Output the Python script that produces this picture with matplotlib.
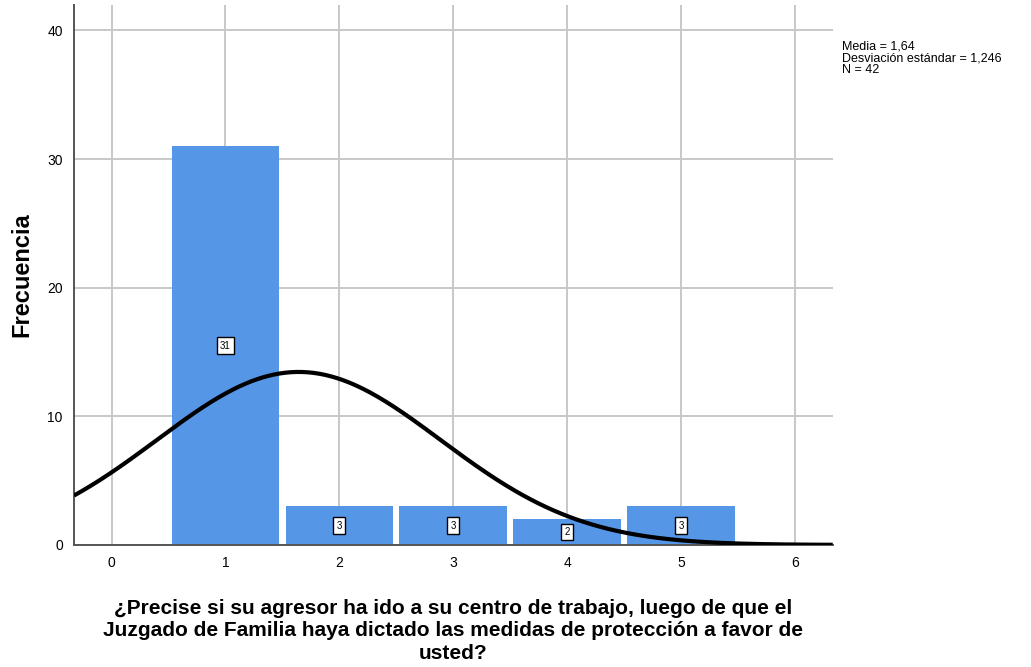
import numpy as np
import matplotlib.pyplot as plt

plt.rcParams['font.family'] = ['Liberation Sans', 'DejaVu Sans']

# data
values = [1, 2, 3, 4, 5]
counts = [31, 3, 3, 2, 3]
x_ticks = [0, 1, 2, 3, 4, 5, 6]
y_ticks = [0, 10, 20, 30, 40]

xlabel = ('¿Precise si su agresor ha ido a su centro de trabajo, luego de que el\n'
          'Juzgado de Familia haya dictado las medidas de protección a favor de\n'
          'usted?')

# stats of the underlying sample (shown in the legend text)
vals = np.repeat(values, counts)
n = len(vals)
mean = vals.mean()
sd = vals.std(ddof=1)

fig = plt.figure(figsize=(10.31, 6.67), dpi=100)
ax = fig.add_axes([0.0717, 0.183, 0.736, 0.81])

ax.set_xlim(-0.33, 6.33)
ax.set_ylim(0, 42)
ax.set_xticks(x_ticks)
ax.set_yticks(y_ticks)
ax.grid(True, color='#c8c8c8', linewidth=1.4)
ax.set_axisbelow(True)

ax.bar(values, counts, width=0.945, color='#5596e6', zorder=2)

# normal curve scaled to the counts (bin width 1)
xs = np.linspace(-0.33, 6.33, 400)
ys = n / (sd * np.sqrt(2 * np.pi)) * np.exp(-0.5 * ((xs - mean) / sd) ** 2)
ax.plot(xs, ys, color='black', linewidth=3, zorder=3, solid_capstyle='butt')

for v, c in zip(values, counts):
    ax.text(v, c / 2, str(c), ha='center', va='center', fontsize=7, zorder=4,
            bbox=dict(boxstyle='square,pad=0.35', facecolor='white',
                      edgecolor='black', linewidth=1))

for s in ['top', 'right']:
    ax.spines[s].set_visible(False)
for s in ['left', 'bottom']:
    ax.spines[s].set_color('#555555')
    ax.spines[s].set_linewidth(1.4)
ax.tick_params(length=0, labelsize=10, pad=8)

ax.set_ylabel('Frecuencia', fontsize=17, fontweight='bold')
ax.yaxis.set_label_coords(-0.054, 0.5)
ax.set_xlabel(xlabel, fontsize=15, fontweight='bold', linespacing=1.22)
ax.xaxis.set_label_coords(0.5, -0.1)
ax.xaxis.label.set_va('top')

fig.text(0.817, 0.94,
         f'Media = {mean:.2f}\nDesviación estándar = {sd:.3f}\nN = {n}'.replace('.', ','),
         fontsize=9, va='top', ha='left', linespacing=1.0)

fig.savefig('out.png', dpi=100)
